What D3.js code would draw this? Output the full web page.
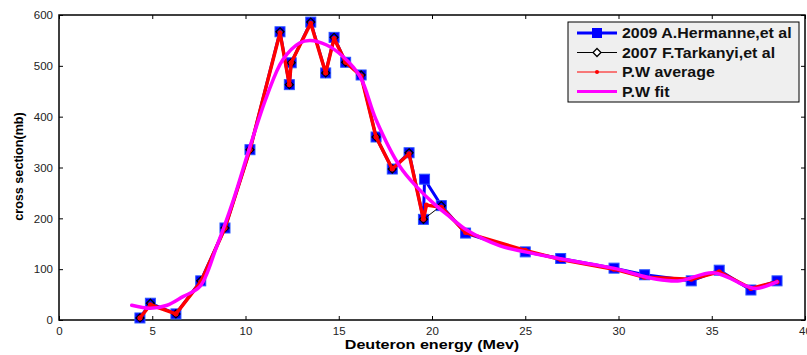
<!DOCTYPE html>
<html>
<head>
<meta charset="utf-8">
<script src="https://cdn.jsdelivr.net/npm/d3@7"></script>
<style>
  body { margin: 0; background: #fff; }
  text { font-family: Arial, "Liberation Sans", sans-serif; }
</style>
</head>
<body>
<div id="chart"></div>
<script>
// data
var hermX = [4.34, 4.9, 6.27, 7.6, 8.9, 10.24, 11.85, 12.35, 12.45, 13.5, 14.3, 14.75, 15.37, 16.2, 17.0, 17.87, 18.77, 19.54, 19.6, 20.5, 21.8, 25.0, 26.9, 29.76, 31.4, 33.9, 35.4, 37.1, 38.5];
var hermY = [4, 33, 12, 77, 181, 335, 567, 463, 506, 586, 486, 556, 507, 482, 360, 297, 329, 198, 277, 225, 171, 134, 121, 102, 89, 77, 98, 59, 77];

var tarkX = [4.34, 4.9, 6.27, 7.6, 8.9, 10.24, 11.85, 12.35, 12.45, 13.5, 14.3, 14.75, 15.37, 16.2, 17.0, 17.87, 18.77, 19.54, 20.5];
var tarkY = [4, 33, 12, 77, 181, 335, 567, 463, 506, 586, 486, 556, 507, 482, 360, 297, 329, 198, 225];

var avgX = [4.34, 4.9, 6.27, 7.6, 8.9, 10.24, 11.85, 12.35, 12.45, 13.5, 14.3, 14.75, 15.37, 16.2, 17.0, 17.87, 18.77, 19.54, 19.7, 20.5, 21.8, 25.0, 26.9, 29.76, 31.4, 33.9, 35.4, 37.1, 38.5];
var avgY = [4, 30, 12, 75, 181, 335, 565, 463, 506, 584, 486, 554, 507, 480, 360, 297, 327, 198, 226, 222, 172, 137, 119, 100, 84, 80, 95, 62, 75];

var fitX = [3.9, 4.9, 5.8, 6.65, 7.56, 8.45, 9.35, 10.24, 11.14, 12.0, 12.9, 13.46, 14.35, 15.24, 16.14, 17.0, 18.28, 19.18, 20.07, 20.96, 21.86, 23.65, 25.0, 27.4, 29.7, 32.05, 33.3, 35.1, 36.9, 37.4, 38.5];
var fitY = [29, 23, 29, 46, 66, 144, 236, 341, 440, 512, 545, 550, 541, 518, 479, 394, 302, 262, 230, 203, 177, 146, 134, 117, 102, 80, 77, 93, 66, 62, 75];

var xTicks = [0, 5, 10, 15, 20, 25, 30, 35, 40];
var yTicks = [0, 100, 200, 300, 400, 500, 600];

var seriesNames = ["2009 A.Hermanne,et al", "2007 F.Tarkanyi,et al", "P.W average", "P.W fit"];

var W = 807, H = 355;
var margin = {left: 59, right: 2, top: 15, bottom: 35};

var svg = d3.select("#chart").append("svg")
  .attr("width", W).attr("height", H);

var x = d3.scaleLinear().domain([0, 40]).range([margin.left, W - margin.right]);
var y = d3.scaleLinear().domain([0, 600]).range([H - margin.bottom, margin.top]);

// axes, matlab style with inward ticks on all sides
svg.append("g")
  .attr("transform", "translate(0," + y(0) + ")")
  .call(d3.axisBottom(x).tickValues(xTicks).tickSize(-4).tickPadding(7))
  .call(g => g.select(".domain").remove());
svg.append("g")
  .attr("transform", "translate(" + x(0) + ",0)")
  .call(d3.axisLeft(y).tickValues(yTicks).tickSize(-4).tickPadding(6))
  .call(g => g.select(".domain").remove());
svg.append("g")
  .attr("transform", "translate(0," + y(600) + ")")
  .call(d3.axisTop(x).tickValues(xTicks).tickSize(-4).tickFormat(""))
  .call(g => g.select(".domain").remove());
svg.append("g")
  .attr("transform", "translate(" + x(40) + ",0)")
  .call(d3.axisRight(y).tickValues(yTicks).tickSize(-4).tickFormat(""))
  .call(g => g.select(".domain").remove());

svg.selectAll(".tick text").attr("font-size", 11.5).attr("fill", "#222");
svg.selectAll(".tick line").attr("stroke", "#000");

svg.append("rect")
  .attr("x", x(0)).attr("y", y(600))
  .attr("width", x(40) - x(0)).attr("height", y(0) - y(600))
  .attr("fill", "none").attr("stroke", "#000").attr("stroke-width", 1.5);

var line = d3.line().x(d => x(d[0])).y(d => y(d[1]));
var smooth = d3.line().x(d => x(d[0])).y(d => y(d[1])).curve(d3.curveCatmullRom);

var herm = d3.zip(hermX, hermY);
var tark = d3.zip(tarkX, tarkY);
var avg = d3.zip(avgX, avgY);
var fit = d3.zip(fitX, fitY);

// Hermanne
svg.append("path").attr("d", line(herm))
  .attr("fill", "none").attr("stroke", "#0000ff").attr("stroke-width", 3);
svg.append("g").selectAll("rect").data(herm).enter().append("rect")
  .attr("x", d => x(d[0]) - 5).attr("y", d => y(d[1]) - 5)
  .attr("width", 10).attr("height", 10)
  .attr("fill", "#0000ff").attr("stroke", "#2a55ff").attr("stroke-width", 1);

// Tarkanyi
svg.append("path").attr("d", line(tark))
  .attr("fill", "none").attr("stroke", "#000").attr("stroke-width", 1);
svg.append("g").selectAll("path").data(tark).enter().append("path")
  .attr("d", d3.symbol().type(d3.symbolDiamond2).size(40))
  .attr("transform", d => "translate(" + x(d[0]) + "," + y(d[1]) + ")")
  .attr("fill", "none").attr("stroke", "#000").attr("stroke-width", 1.3);

// average
svg.append("path").attr("d", line(avg))
  .attr("fill", "none").attr("stroke", "#ff0000").attr("stroke-width", 3.5)
  .attr("stroke-linejoin", "round");
svg.append("g").selectAll("circle").data(avg).enter().append("circle")
  .attr("cx", d => x(d[0])).attr("cy", d => y(d[1])).attr("r", 2.5)
  .attr("fill", "#ff0000");

// fit
svg.append("path").attr("d", smooth(fit))
  .attr("fill", "none").attr("stroke", "#ff00ff").attr("stroke-width", 3.5)
  .attr("stroke-linecap", "round");

// axis titles (the original font is a bit wider than Arial)
svg.append("text")
  .attr("transform", "translate(" + ((x(0) + x(40)) / 2) + ",349) scale(1.24,1)")
  .attr("text-anchor", "middle").attr("font-size", 13).attr("font-weight", "bold")
  .text("Deuteron energy (Mev)");
svg.append("text")
  .attr("transform", "translate(23," + (y(300) - 1) + ") rotate(-90)")
  .attr("text-anchor", "middle").attr("font-size", 12.6).attr("font-weight", "bold")
  .text("cross section(mb)");

// legend
var lg = svg.append("g").attr("transform", "translate(568,22)");
lg.append("rect").attr("width", 231).attr("height", 80)
  .attr("fill", "#efefef").attr("stroke", "#000").attr("stroke-width", 1);

var rows = lg.selectAll("g.row").data(seriesNames).enter().append("g")
  .attr("transform", (d, i) => "translate(0," + (11 + i * 19.5) + ")");
rows.append("line").attr("x1", 9).attr("x2", 49).attr("y1", 0).attr("y2", 0)
  .attr("stroke", (d, i) => ["#0000ff", "#000", "#ff0000", "#ff00ff"][i])
  .attr("stroke-width", (d, i) => [3, 1, 1, 3][i]);
rows.append("text").attr("transform", "translate(54,5) scale(1.14,1)")
  .attr("font-size", 14).attr("font-weight", "bold").attr("fill", "#111")
  .text(d => d);

rows.filter((d, i) => i === 0).append("rect")
  .attr("x", 24).attr("y", -5).attr("width", 10).attr("height", 10).attr("fill", "#0000ff");
rows.filter((d, i) => i === 1).append("path")
  .attr("d", d3.symbol().type(d3.symbolDiamond2).size(40))
  .attr("transform", "translate(29,0)")
  .attr("fill", "#fff").attr("stroke", "#000").attr("stroke-width", 1.3);
rows.filter((d, i) => i === 2).append("circle")
  .attr("cx", 29).attr("r", 2).attr("fill", "#ff0000");
rows.filter((d, i) => i === 3).append("circle")
  .attr("cx", 29).attr("r", 1.5).attr("fill", "#ff00ff");
</script>
</body>
</html>
